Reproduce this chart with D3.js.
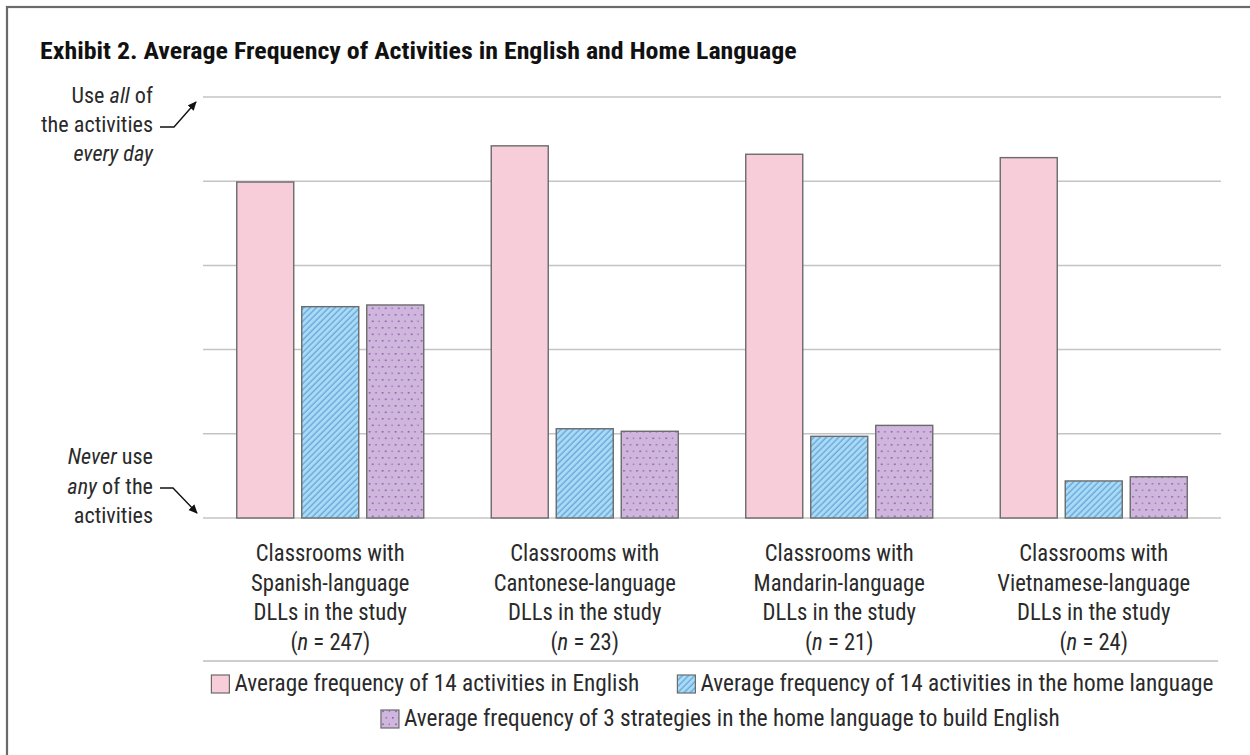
<!DOCTYPE html>
<meta charset="utf-8">
<script src="https://d3js.org/d3.v7.min.js"></script>
<style>body{margin:0;background:#fff}</style>
<svg id="chart" width="1250" height="755"></svg>
<script>
// ---- data ----
var title = "Exhibit 2. Average Frequency of Activities in English and Home Language";
var languages = ["Spanish", "Cantonese", "Mandarin", "Vietnamese"];
var sampleSizes = [247, 23, 21, 24];
var englishValues = [3.99, 4.42, 4.32, 4.28];
var homeValues = [2.51, 1.06, 0.97, 0.44];
var strategyValues = [2.53, 1.03, 1.10, 0.49];
var seriesNames = [
  "Average frequency of 14 activities in English",
  "Average frequency of 14 activities in the home language",
  "Average frequency of 3 strategies in the home language to build English"
];
var yTicks = [0, 1, 2, 3, 4, 5];

var series = [englishValues, homeValues, strategyValues];
var fills = ["#f6cdd9", "url(#hatch)", "url(#dots)"];

var svg = d3.select("#chart"),
    width = +svg.attr("width"),
    height = +svg.attr("height");

var FONT = "'Liberation Sans Narrow','Roboto Condensed',Roboto,'Liberation Sans',sans-serif";
var INK = "#2a2a2a";

// patterns + arrow marker
var defs = svg.append("defs");
var hatch = defs.append("pattern").attr("id", "hatch")
    .attr("patternUnits", "userSpaceOnUse").attr("width", 4.4).attr("height", 4.4)
    .attr("patternTransform", "rotate(45)");
hatch.append("rect").attr("width", 4.4).attr("height", 4.4).attr("fill", "#a9dbf6");
hatch.append("line").attr("x1", 1).attr("x2", 1).attr("y1", 0).attr("y2", 4.4)
    .attr("stroke", "#5a9ad3").attr("stroke-width", 1.1);

var dots = defs.append("pattern").attr("id", "dots")
    .attr("patternUnits", "userSpaceOnUse").attr("width", 13).attr("height", 13);
dots.append("rect").attr("width", 13).attr("height", 13).attr("fill", "#cfb6dc");
dots.append("rect").attr("x", 2).attr("y", 2).attr("width", 1.6).attr("height", 1.6).attr("fill", "#9257b3");
dots.append("rect").attr("x", 8.5).attr("y", 2).attr("width", 1.6).attr("height", 1.6).attr("fill", "#a46fc2");
dots.append("rect").attr("x", 5.2).attr("y", 8.5).attr("width", 1.6).attr("height", 1.6).attr("fill", "#9257b3");
dots.append("rect").attr("x", 11.7).attr("y", 8.5).attr("width", 1.6).attr("height", 1.6).attr("fill", "#a46fc2");

defs.append("marker").attr("id", "arrow")
    .attr("viewBox", "0 0 10 10").attr("refX", 9).attr("refY", 5)
    .attr("markerWidth", 9).attr("markerHeight", 9).attr("markerUnits", "userSpaceOnUse")
    .attr("orient", "auto")
  .append("path").attr("d", "M0,0.5 L10,5 L0,9.5 Z").attr("fill", "#111");

// frame
svg.append("rect").attr("x", 7).attr("y", 7).attr("width", 1400).attr("height", 900)
    .attr("fill", "none").attr("stroke", "#6a6a6a").attr("stroke-width", 2.2);

// text helpers (condensed look via horizontal scale)
function measure(str, size, bold) {
  var t = svg.append("text").style("font-family", FONT).style("font-size", size + "px")
      .style("font-weight", bold ? "bold" : "normal").text(str);
  var w = t.node().getComputedTextLength();
  t.remove();
  return w;
}
function addText(x, y, parts, opt) {
  var t = svg.append("text")
      .attr("text-anchor", opt.anchor || "start")
      .style("font-family", FONT).style("font-size", opt.size + "px")
      .style("font-weight", opt.bold ? "bold" : "normal")
      .attr("fill", opt.color || INK);
  parts.forEach(function(p) {
    t.append("tspan").text(p[0]).style("font-style", p[1] ? "italic" : "normal");
  });
  t.attr("transform", "translate(" + x + "," + y + ") scale(" + (opt.k || 1) + ",1)");
  return t;
}

// title
var titleK = 757 / measure(title, 23, true);
addText(40, 59, [[title]], {size: 23, bold: true, k: titleK, color: "#111"});

// scales
var y = d3.scaleLinear().domain([0, 5]).range([518, 97]);
var x0 = d3.scaleBand().domain(languages).range([203, 1221]);
var groupW = 187;
var x1 = d3.scaleBand().domain([0, 1, 2]).range([0, groupW]).paddingInner(8 / 65);

// gridlines
svg.append("g").selectAll("line").data(yTicks).enter().append("line")
    .attr("x1", 203).attr("x2", 1221)
    .attr("y1", function(d) { return y(d); }).attr("y2", function(d) { return y(d); })
    .attr("stroke", "#c4c4c4").attr("stroke-width", 1.5);

// bars
var groups = svg.append("g").selectAll("g").data(languages).enter().append("g")
    .attr("transform", function(d) {
      return "translate(" + (x0(d) + x0.bandwidth() / 2 - groupW / 2) + ",0)";
    });
groups.selectAll("rect").data(function(d, i) {
    return series.map(function(s, j) { return {s: j, v: s[i]}; });
  }).enter().append("rect")
    .attr("x", function(d) { return x1(d.s); })
    .attr("width", x1.bandwidth())
    .attr("y", function(d) { return y(d.v); })
    .attr("height", function(d) { return y(0) - y(d.v); })
    .attr("fill", function(d) { return fills[d.s]; })
    .attr("stroke", "#6b6b6b").attr("stroke-width", 1.4);

// category labels
var catK = 149 / measure("Classrooms with", 24, false);
languages.forEach(function(lang, i) {
  var cx = x0(lang) + x0.bandwidth() / 2;
  var lines = [
    [["Classrooms with"]],
    [[lang + "-language"]],
    [["DLLs in the study"]],
    [["("], ["n", true], [" = " + sampleSizes[i] + ")"]]
  ];
  lines.forEach(function(parts, j) {
    addText(cx, 561 + j * 29.5, parts, {size: 24, anchor: "middle", k: catK});
  });
});

// y-axis annotations
var annK = 112 / measure("the activities", 22, false);
var topLines = [[["Use "], ["all", true], [" of"]], [["the activities"]], [["every day", true]]];
topLines.forEach(function(parts, j) {
  addText(153, 103 + j * 29, parts, {size: 22, anchor: "end", k: annK});
});
var botLines = [[["Never", true], [" use"]], [["any", true], [" of the"]], [["activities"]]];
botLines.forEach(function(parts, j) {
  addText(153, 464 + j * 29.5, parts, {size: 22, anchor: "end", k: annK});
});
svg.append("path").attr("d", "M160,127 L174,127 L196,102")
    .attr("fill", "none").attr("stroke", "#111").attr("stroke-width", 1.4).attr("marker-end", "url(#arrow)");
svg.append("path").attr("d", "M160,488 L173,488 L197,513")
    .attr("fill", "none").attr("stroke", "#111").attr("stroke-width", 1.4).attr("marker-end", "url(#arrow)");

// legend
svg.append("line").attr("x1", 203).attr("x2", 1218).attr("y1", 661).attr("y2", 661)
    .attr("stroke", "#bdbdbd").attr("stroke-width", 1.5);

var legK = 405 / measure(seriesNames[0], 23, false);
var sw = 18, gap = 5, itemGap = 38;
var legendFills = ["#f6cdd9", "url(#hatch)", "url(#dots)"];
function legendRow(items, centerX, baseY) {
  var widths = items.map(function(i) { return measure(seriesNames[i], 23, false) * legK; });
  var total = d3.sum(widths) + items.length * (sw + gap) + (items.length - 1) * itemGap;
  var cx = centerX - total / 2;
  items.forEach(function(i, k) {
    svg.append("rect").attr("x", cx).attr("y", baseY - 16).attr("width", sw).attr("height", sw)
        .attr("fill", legendFills[i]).attr("stroke", "#6b6b6b").attr("stroke-width", 1.2);
    addText(cx + sw + gap, baseY, [[seriesNames[i]]], {size: 23, k: legK});
    cx += sw + gap + widths[k] + itemGap;
  });
}
legendRow([0, 1], 712.5, 691);
legendRow([2], 720.5, 726);
</script>
